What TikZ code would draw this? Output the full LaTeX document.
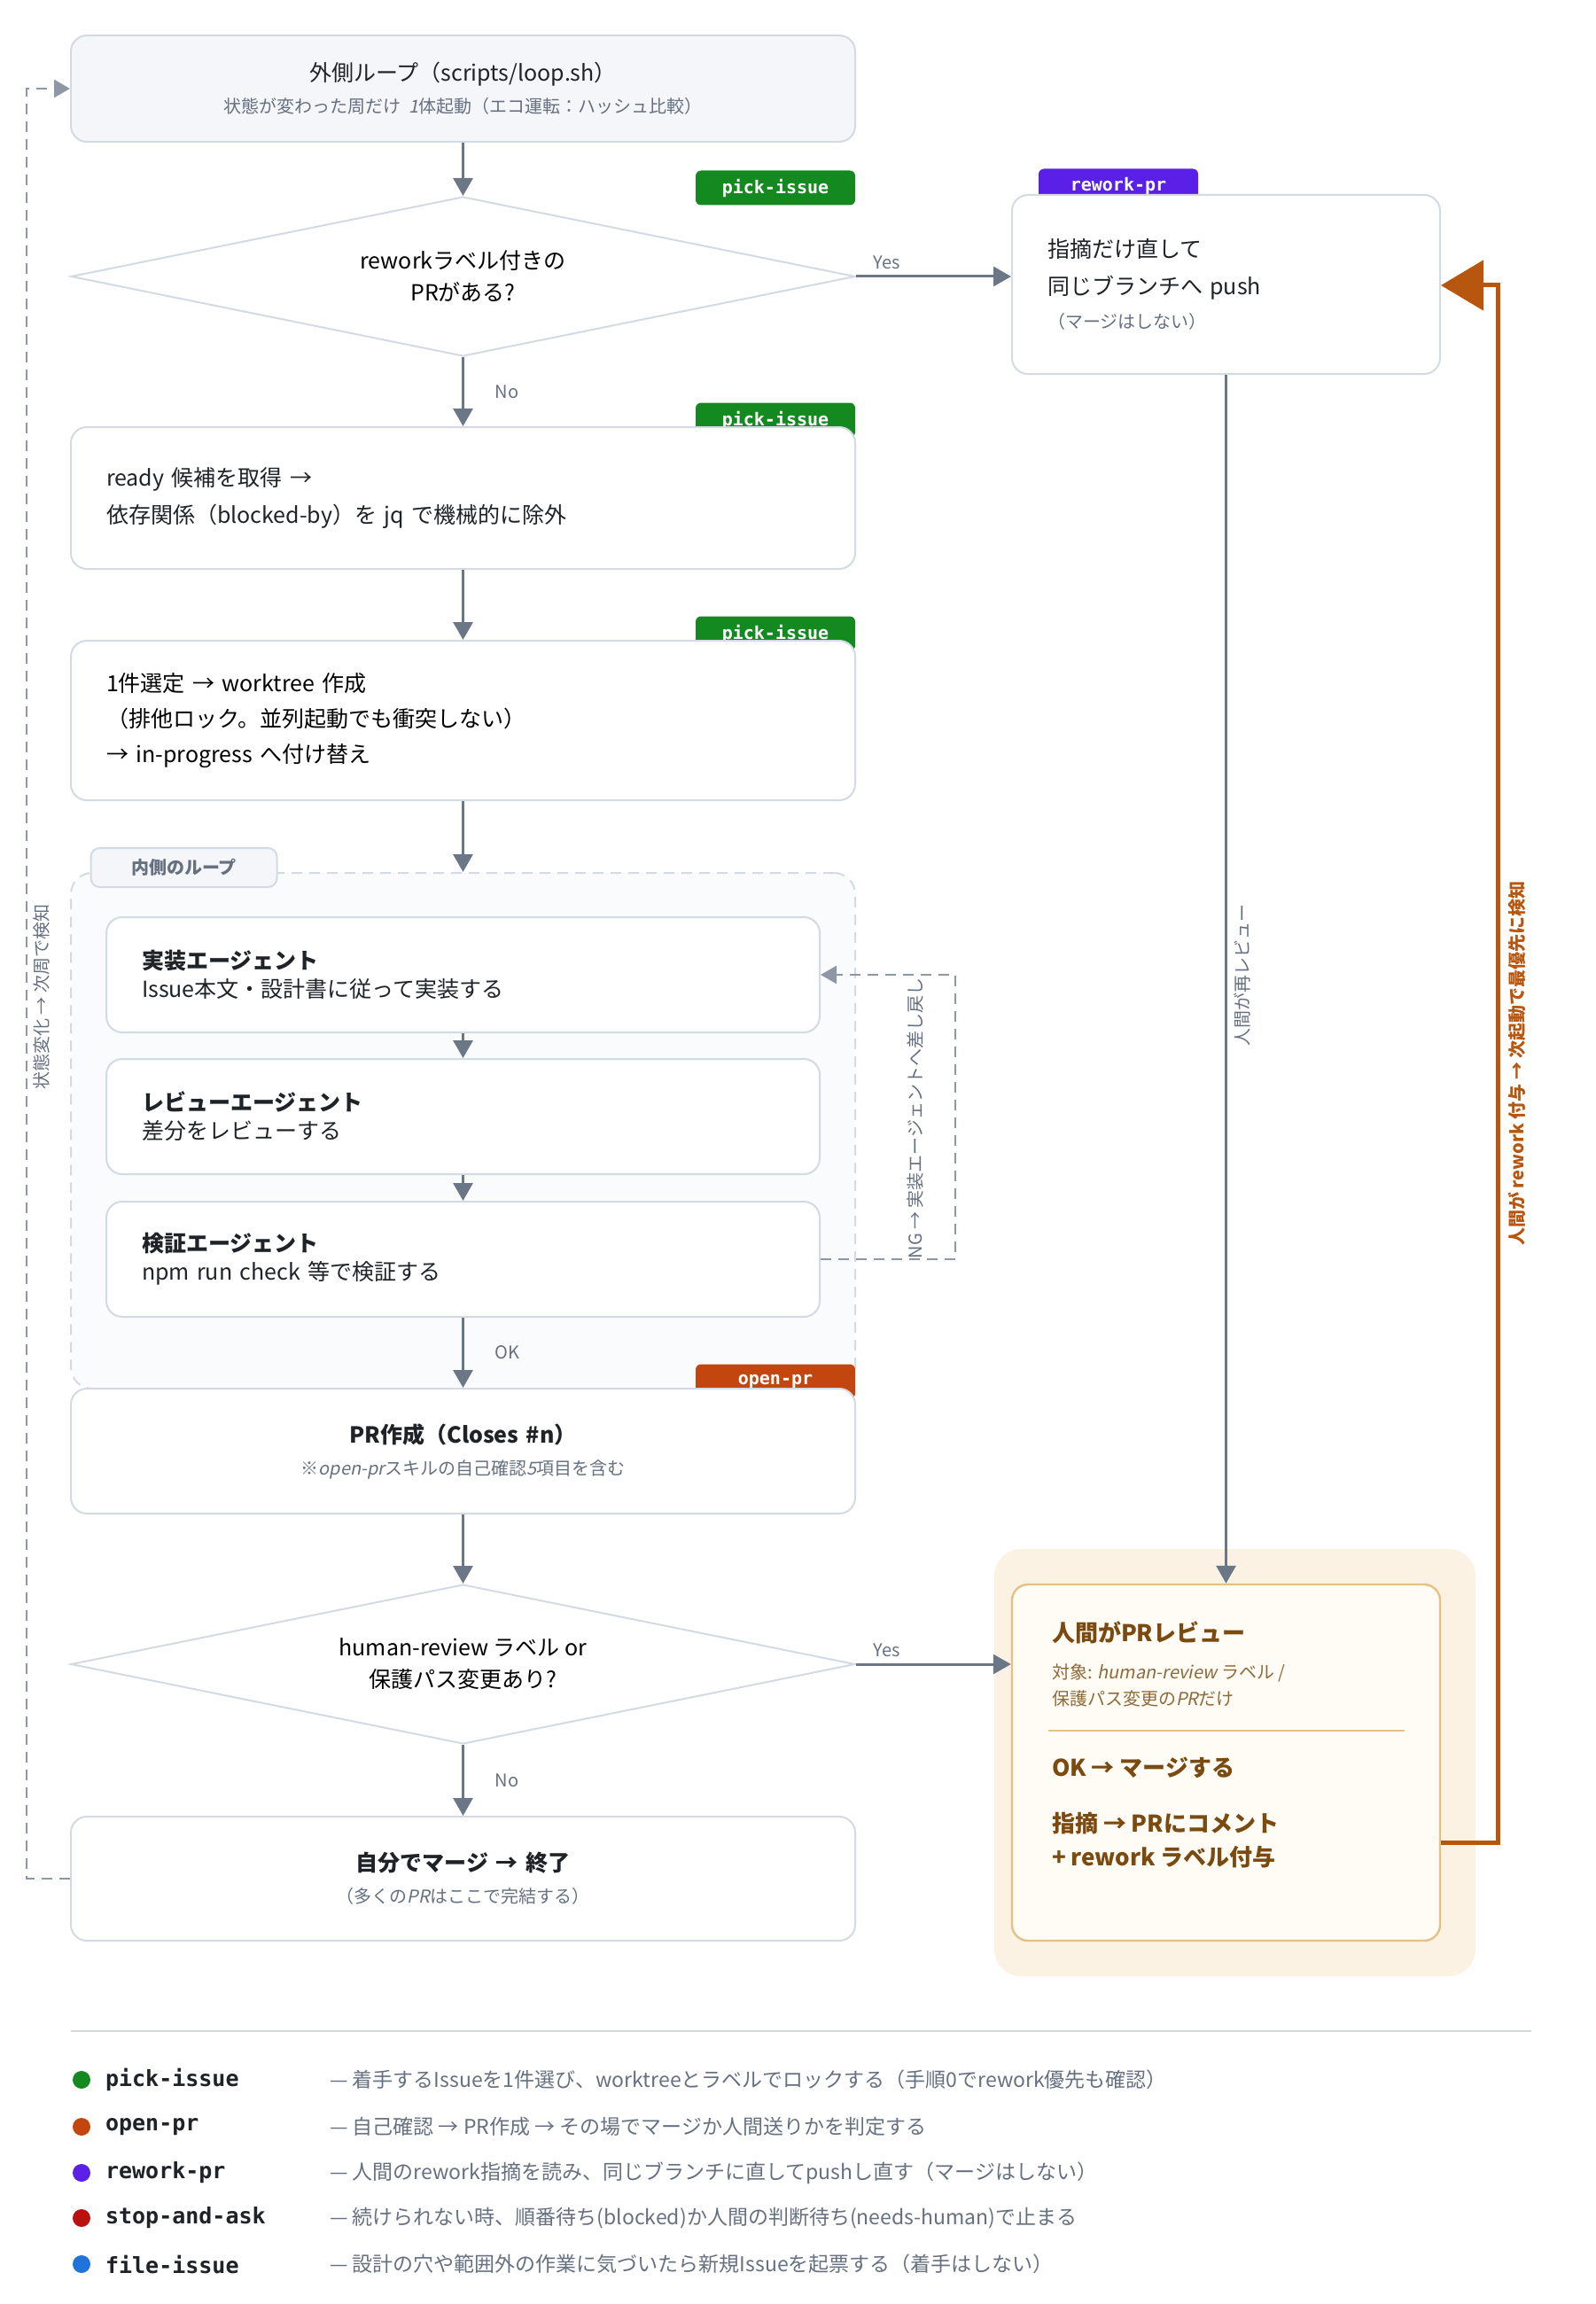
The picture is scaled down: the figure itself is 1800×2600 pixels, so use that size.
\documentclass[tikz,border=0pt]{standalone}
\usepackage{fontspec}
\setmainfont{Noto Sans CJK JP}[ItalicFont=Noto Sans CJK JP,ItalicFeatures={FakeSlant=0.2}]
\newfontfamily\tagfont{DejaVu Sans Mono}
\usetikzlibrary{arrows.meta,shapes.geometric}
\definecolor{Ln}{HTML}{6B7686}
\definecolor{Dl}{HTML}{8D97A5}
\definecolor{Bd}{HTML}{D3DAE3}
\definecolor{Bg}{HTML}{F4F6F9}
\definecolor{Tx}{HTML}{1F2328}
\definecolor{Sb}{HTML}{667080}
\definecolor{Cpick}{HTML}{13891F}
\definecolor{Copen}{HTML}{C4460F}
\definecolor{Crew}{HTML}{5B20E8}
\definecolor{Cstop}{HTML}{BA1010}
\definecolor{Cfile}{HTML}{1F73DA}
\definecolor{Cor}{HTML}{B7560F}
\definecolor{Hbg}{HTML}{FCF2E3}
\definecolor{Hin}{HTML}{FFFCF5}
\definecolor{Hbd}{HTML}{E2C285}
\definecolor{Htx}{HTML}{7A4A10}
\definecolor{Hsb}{HTML}{8F6A3A}
\begin{document}
\begin{tikzpicture}[x=0.5pt,y=-0.5pt,font=\fontsize{12.5}{21}\selectfont\color{Tx}]
\tikzstyle{box}=[draw=Bd,line width=1pt,fill=white,rounded corners=9pt,minimum width=442.5pt,inner xsep=20pt,align=left,text width=402.5pt]
\tikzstyle{agent}=[box,minimum width=402.5pt,minimum height=65pt,text width=362.5pt]
\tikzstyle{dia}=[draw=Bd,line width=1pt,fill=white,diamond,aspect=5,inner sep=0pt,minimum width=442.5pt,minimum height=90pt,align=center,font=\fontsize{12.5}{18}\selectfont]
\tikzstyle{tag}=[fill=#1,rounded corners=3pt,minimum width=90pt,minimum height=19.5pt,inner sep=0pt,text=white,font=\tagfont\bfseries\fontsize{10}{10}\selectfont]
\tikzstyle{flow}=[draw=Ln,line width=1.5pt,-{Triangle[length=10pt,width=11pt]}]
\tikzstyle{back}=[draw=Dl,line width=1.3pt,dash pattern=on 6pt off 4pt,-{Triangle[length=9pt,width=10pt]}]
\tikzstyle{lbl}=[text=Sb,font=\fontsize{10}{12}\selectfont]
\tikzstyle{leg}=[anchor=west,text=Tx,font=\tagfont\bfseries\fontsize{12.5}{14}\selectfont]
\tikzstyle{legd}=[anchor=west,text=Sb,font=\fontsize{11.5}{13}\selectfont]

\useasboundingbox (0,0) rectangle (1800,2600);
% tags behind the boxes
\node[tag=Cpick](t1) at (875,212){pick-issue};
\node[tag=Crew](t2) at (1262,210){rework-pr};
\node[tag=Cpick](t3) at (875,474){pick-issue};
\node[tag=Cpick](t4) at (875,715){pick-issue};
% human review panel
\fill[Hbg,rounded corners=15pt] (1122,1748) rectangle (1665,2230);
%
\node[box,fill=Bg,minimum height=60pt,align=center](outer) at (522.5,100){外側ループ（scripts/loop.sh）\\[-3pt]{\fontsize{10}{12}\selectfont\color{Sb}状態が変わった周だけ \textit{1}体起動（エコ運転：ハッシュ比較）}};
\node[dia](q1) at (522.5,312){reworkラベル付きの\\PRがある?};
\node[box,minimum width=241.5pt,text width=201.5pt,minimum height=101pt](rework) at (1383.5,321){指摘だけ直して\\同じブランチへ push\\[-2pt]{\fontsize{10}{12}\selectfont\color{Sb}（マージはしない）}};
\node[box,minimum height=80pt](ready) at (522.5,562){ready 候補を取得 →\\依存関係（blocked-by）を jq で機械的に除外};
\node[box,minimum height=90pt,font=\fontsize{12.5}{20}\selectfont](pick) at (522.5,813){1件選定 → worktree 作成\\（排他ロック。並列起動でも衝突しない）\\→ in-progress へ付け替え};
%
\node[draw=Bd,line width=1pt,dash pattern=on 6pt off 4pt,fill=Bg!45,rounded corners=12pt,minimum width=442.5pt,minimum height=291pt](inner) at (522.5,1276){};
\node[draw=Bd,line width=1pt,fill=Bg,rounded corners=5pt,minimum width=105pt,minimum height=22pt,text=Sb,font=\bfseries\fontsize{10}{12}\selectfont](innertab) at (207.5,979){内側のループ};
\node[agent](a1) at (522.5,1100){\textbf{実装エージェント}\\[-5pt]Issue本文・設計書に従って実装する};
\node[agent](a2) at (522.5,1260){\textbf{レビューエージェント}\\[-5pt]差分をレビューする};
\node[agent](a3) at (522.5,1421){\textbf{検証エージェント}\\[-5pt]npm run check 等で検証する};
%
\node[tag=Copen](t5) at (875,1559){open-pr};
\node[box,minimum height=70.5pt,align=center](pr) at (522.5,1637.5){\textbf{PR作成（Closes \#n）}\\[-3pt]{\fontsize{10}{12}\selectfont\color{Sb}※\textit{open-pr}スキルの自己確認\textit{5}項目を含む}};
\node[dia](q2) at (522.5,1878){human-review ラベル or\\保護パス変更あり?};
\node[box,minimum height=70pt,align=center](merge) at (522.5,2120){\textbf{自分でマージ → 終了}\\[-3pt]{\fontsize{10}{12}\selectfont\color{Sb}（多くの\textit{PR}はここで完結する）}};
%
\node[draw=Hbd,line width=1.2pt,fill=Hin,rounded corners=9pt,minimum width=241.5pt,minimum height=201pt](human) at (1383.5,1989){};
\node[anchor=west,text=Htx,font=\bfseries\fontsize{13}{16}\selectfont](h1) at (1180,1842){人間がPRレビュー};
\node[anchor=west,text=Hsb,align=left,font=\fontsize{10}{15}\selectfont](h2) at (1180,1902){対象: \textit{human-review} ラベル /\\保護パス変更の\textit{PR}だけ};
\node[anchor=west,text=Htx,font=\bfseries\fontsize{13}{16}\selectfont](h3) at (1180,1995){OK → マージする};
\node[anchor=west,text=Htx,align=left,font=\bfseries\fontsize{13}{19}\selectfont](h4) at (1180,2077){指摘 → PRにコメント\\+ rework ラベル付与};
\draw[Hbd,line width=0.8pt] (1183,1953) -- (1585,1953);
%
\coordinate (ngx) at (1078,1420);
\coordinate (lx) at (30,100);
\coordinate (ox) at (1690,322);
\draw[flow] (outer) -- (q1);
\draw[flow] (q1.east) -- (q1.east -| rework.west) node[pos=0.2,above,lbl]{Yes};
\draw[flow] (q1) -- (ready) node[midway,right=14pt,lbl]{No};
\draw[flow] (ready) -- (pick);
\draw[flow] (pick) -- (inner.north);
\draw[flow] (a1) -- (a2);
\draw[flow] (a2) -- (a3);
\draw[flow] (a3) -- (pr) node[midway,right=14pt,lbl]{OK};
\draw[back] (a3.east) -| (ngx) |- (a1.east);
\draw[flow] (pr) -- (q2);
\draw[flow] (q2.east) -- (q2.east -| human.west) node[pos=0.2,above,lbl]{Yes};
\draw[flow] (q2) -- (merge) node[midway,right=14pt,lbl]{No};
\draw[back] (merge.west) -| (lx) -- (outer.west);
\draw[flow] (rework) -- (human);
\draw[draw=Cor,line width=2.5pt,-{Triangle[length=24pt,width=28pt]}] ([yshift=-45pt]human.east) -| (ox) -- (rework.east |- ox);
%
\node[rotate=90,lbl](l1) at (1033,1262){NG → 実装エージェントへ差し戻し};
\node[rotate=90,lbl](l2) at (47,1125){状態変化 → 次周で検知};
\node[rotate=90,lbl](l3) at (1402,1100){人間が再レビュー};
\node[rotate=90,text=Cor,font=\bfseries\fontsize{10}{12}\selectfont](l4) at (1712,1200){人間が rework 付与 → 次起動で最優先に検知};
% legend
\draw[Bd,line width=1pt] (80,2292) -- (1728,2292);
\foreach \y/\c/\n/\d in {2347/Cpick/pick-issue/着手するIssueを1件選び、worktreeとラベルでロックする（手順0でrework優先も確認）,
  2400/Copen/open-pr/自己確認 → PR作成 → その場でマージか人間送りかを判定する,
  2452/Crew/rework-pr/人間のrework指摘を読み、同じブランチに直してpushし直す（マージはしない）,
  2503/Cstop/stop-and-ask/続けられない時、順番待ち(blocked)か人間の判断待ち(needs-human)で止まる,
  2555/Cfile/file-issue/設計の穴や範囲外の作業に気づいたら新規Issueを起票する（着手はしない）}{
  \fill[\c] (92,\y) circle (5pt);
  \node[leg] at (112,\y){\n};
  \node[legd] at (365,\y){— \d};
}
\end{tikzpicture}
\end{document}
